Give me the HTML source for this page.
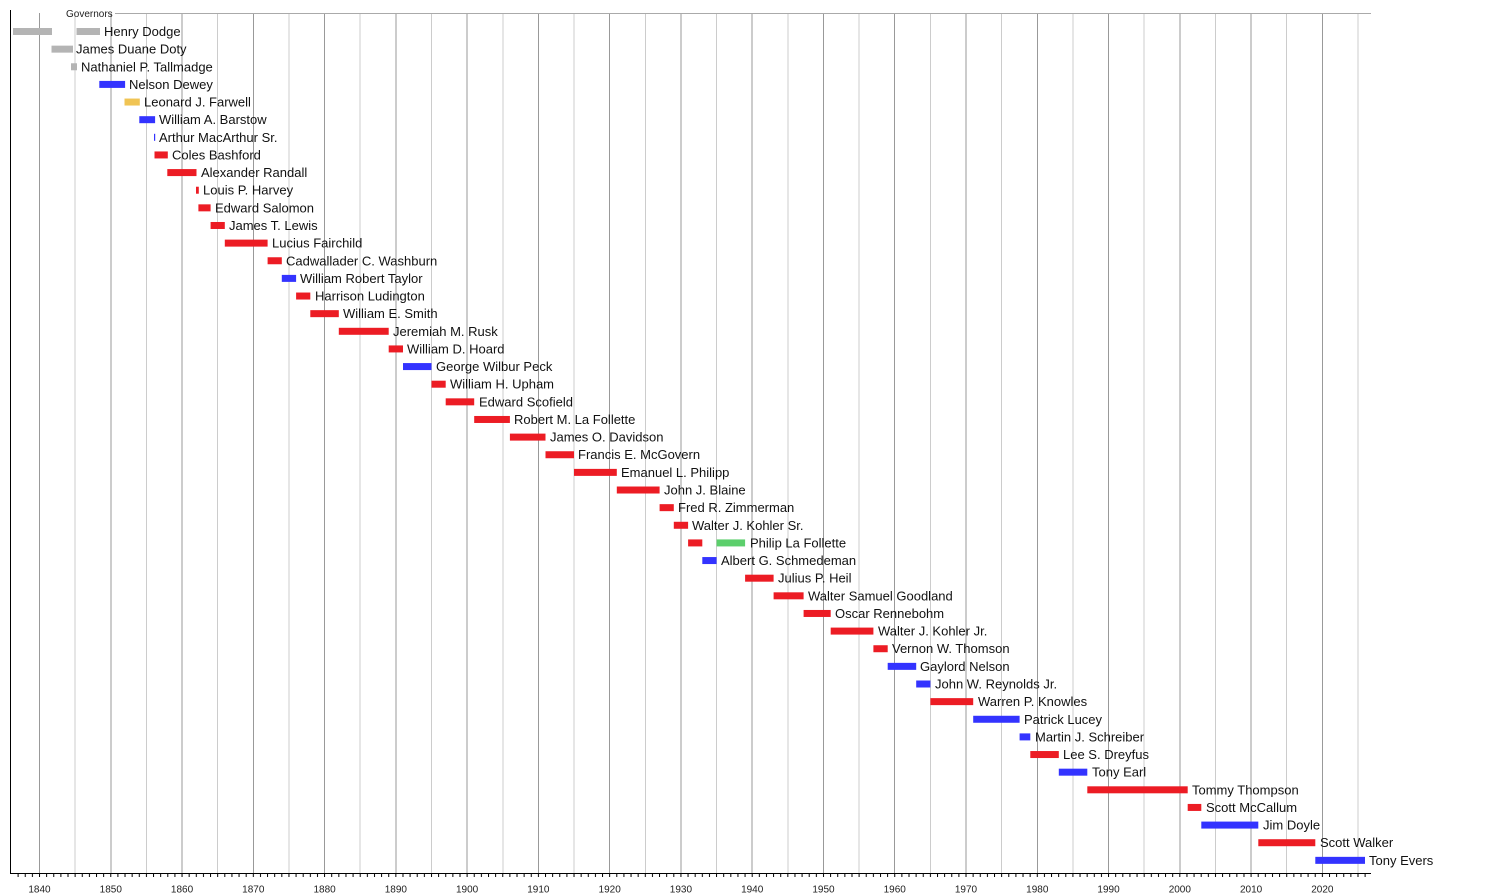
<!DOCTYPE html>
<html>
<head>
<meta charset="utf-8">
<style>
html,body{margin:0;padding:0;background:#fff;}
svg{display:block;}
text{font-family:"Liberation Sans",Arial,sans-serif;}
.l{font-size:13px;fill:#111;}
.t{font-size:10px;fill:#222;text-anchor:middle;}
</style>
</head>
<body>
<svg width="1500" height="894" viewBox="0 0 1500 894" xmlns="http://www.w3.org/2000/svg">
<defs>
<pattern id="tk" x="39" y="873" width="7.127" height="4" patternUnits="userSpaceOnUse">
<rect x="0" y="0" width="1" height="4" fill="#000"/>
</pattern>
</defs>
<!-- half-decade grid -->
<g stroke="#cccccc" stroke-width="1" shape-rendering="crispEdges">
<line x1="75.14" y1="13" x2="75.14" y2="873"/>
<line x1="146.4" y1="13" x2="146.4" y2="873"/>
<line x1="217.68" y1="13" x2="217.68" y2="873"/>
<line x1="288.95" y1="13" x2="288.95" y2="873"/>
<line x1="360.2" y1="13" x2="360.2" y2="873"/>
<line x1="431.5" y1="13" x2="431.5" y2="873"/>
<line x1="502.76" y1="13" x2="502.76" y2="873"/>
<line x1="574.03" y1="13" x2="574.03" y2="873"/>
<line x1="645.3" y1="13" x2="645.3" y2="873"/>
<line x1="716.57" y1="13" x2="716.57" y2="873"/>
<line x1="787.84" y1="13" x2="787.84" y2="873"/>
<line x1="859.1" y1="13" x2="859.1" y2="873"/>
<line x1="930.4" y1="13" x2="930.4" y2="873"/>
<line x1="1001.65" y1="13" x2="1001.65" y2="873"/>
<line x1="1072.9" y1="13" x2="1072.9" y2="873"/>
<line x1="1144.2" y1="13" x2="1144.2" y2="873"/>
<line x1="1215.46" y1="13" x2="1215.46" y2="873"/>
<line x1="1286.73" y1="13" x2="1286.73" y2="873"/>
<line x1="1358" y1="13" x2="1358" y2="873"/>
</g>
<!-- decade grid -->
<g stroke="#999999" stroke-width="1" shape-rendering="crispEdges">
<line x1="39.5" y1="13" x2="39.5" y2="873"/>
<line x1="110.77" y1="13" x2="110.77" y2="873"/>
<line x1="182.04" y1="13" x2="182.04" y2="873"/>
<line x1="253.31" y1="13" x2="253.31" y2="873"/>
<line x1="324.58" y1="13" x2="324.58" y2="873"/>
<line x1="395.85" y1="13" x2="395.85" y2="873"/>
<line x1="467.12" y1="13" x2="467.12" y2="873"/>
<line x1="538.39" y1="13" x2="538.39" y2="873"/>
<line x1="609.66" y1="13" x2="609.66" y2="873"/>
<line x1="680.93" y1="13" x2="680.93" y2="873"/>
<line x1="752.2" y1="13" x2="752.2" y2="873"/>
<line x1="823.47" y1="13" x2="823.47" y2="873"/>
<line x1="894.74" y1="13" x2="894.74" y2="873"/>
<line x1="966.01" y1="13" x2="966.01" y2="873"/>
<line x1="1037.28" y1="13" x2="1037.28" y2="873"/>
<line x1="1108.55" y1="13" x2="1108.55" y2="873"/>
<line x1="1179.82" y1="13" x2="1179.82" y2="873"/>
<line x1="1251.09" y1="13" x2="1251.09" y2="873"/>
<line x1="1322.36" y1="13" x2="1322.36" y2="873"/>
</g>
<!-- top line -->
<line x1="115" y1="13.5" x2="1371" y2="13.5" stroke="#aaaaaa" stroke-width="1" shape-rendering="crispEdges"/>
<text x="66" y="16.8" style="font-size:10px;fill:#222;">Governors</text>
<!-- axes -->
<line x1="10.5" y1="10" x2="10.5" y2="874" stroke="#000" stroke-width="1" shape-rendering="crispEdges"/>
<line x1="10" y1="873.5" x2="1371" y2="873.5" stroke="#000" stroke-width="1" shape-rendering="crispEdges"/>
<rect x="14" y="873" width="1355" height="4" fill="url(#tk)"/>
<!-- tick labels -->
<text class="t" x="39.5" y="892.5">1840</text>
<text class="t" x="110.77" y="892.5">1850</text>
<text class="t" x="182.04" y="892.5">1860</text>
<text class="t" x="253.31" y="892.5">1870</text>
<text class="t" x="324.58" y="892.5">1880</text>
<text class="t" x="395.85" y="892.5">1890</text>
<text class="t" x="467.12" y="892.5">1900</text>
<text class="t" x="538.39" y="892.5">1910</text>
<text class="t" x="609.66" y="892.5">1920</text>
<text class="t" x="680.93" y="892.5">1930</text>
<text class="t" x="752.2" y="892.5">1940</text>
<text class="t" x="823.47" y="892.5">1950</text>
<text class="t" x="894.74" y="892.5">1960</text>
<text class="t" x="966.01" y="892.5">1970</text>
<text class="t" x="1037.28" y="892.5">1980</text>
<text class="t" x="1108.55" y="892.5">1990</text>
<text class="t" x="1179.82" y="892.5">2000</text>
<text class="t" x="1251.09" y="892.5">2010</text>
<text class="t" x="1322.36" y="892.5">2020</text>

<!-- bars -->
<g>
<rect x="13" y="28" width="39" height="7" fill="#b4b4b4"/>
<rect x="76.5" y="28" width="23.5" height="7" fill="#b4b4b4"/>
<text class="l" x="104" y="36">Henry Dodge</text>

<rect x="51.5" y="45.64" width="21.5" height="7" fill="#b4b4b4"/>
<text class="l" x="76" y="53.64">James Duane Doty</text>

<rect x="71" y="63.27" width="6" height="7" fill="#b4b4b4"/>
<text class="l" x="81" y="71.27">Nathaniel P. Tallmadge</text>

<rect x="99.3" y="80.91" width="25.8" height="7" fill="#3333ff"/>
<text class="l" x="129" y="88.91">Nelson Dewey</text>

<rect x="124.5" y="98.54" width="15.3" height="7" fill="#f0c454"/>
<text class="l" x="144" y="106.54">Leonard J. Farwell</text>

<rect x="139.3" y="116.18" width="15.8" height="7" fill="#3333ff"/>
<text class="l" x="159" y="124.18">William A. Barstow</text>

<rect x="154" y="133.81" width="1.2" height="7" fill="#3333ff"/>
<text class="l" x="159" y="141.81">Arthur MacArthur Sr.</text>

<rect x="154.5" y="151.45" width="13.3" height="7" fill="#ec1c24"/>
<text class="l" x="172" y="159.45">Coles Bashford</text>

<rect x="167.3" y="169.08" width="29.2" height="7" fill="#ec1c24"/>
<text class="l" x="201" y="177.08">Alexander Randall</text>

<rect x="196" y="186.72" width="2.8" height="7" fill="#ec1c24"/>
<text class="l" x="203" y="194.72">Louis P. Harvey</text>

<rect x="198.4" y="204.35" width="12.2" height="7" fill="#ec1c24"/>
<text class="l" x="215" y="212.35">Edward Salomon</text>

<rect x="210.6" y="221.99" width="14.2" height="7" fill="#ec1c24"/>
<text class="l" x="229" y="229.99">James T. Lewis</text>

<rect x="224.8" y="239.62" width="42.8" height="7" fill="#ec1c24"/>
<text class="l" x="272" y="247.62">Lucius Fairchild</text>

<rect x="267.6" y="257.26" width="14.2" height="7" fill="#ec1c24"/>
<text class="l" x="286" y="265.26">Cadwallader C. Washburn</text>

<rect x="281.8" y="274.89" width="14.3" height="7" fill="#3333ff"/>
<text class="l" x="300" y="282.89">William Robert Taylor</text>

<rect x="296.1" y="292.53" width="14.2" height="7" fill="#ec1c24"/>
<text class="l" x="315" y="300.53">Harrison Ludington</text>

<rect x="310.3" y="310.16" width="28.5" height="7" fill="#ec1c24"/>
<text class="l" x="343" y="318.16">William E. Smith</text>

<rect x="338.8" y="327.8" width="49.9" height="7" fill="#ec1c24"/>
<text class="l" x="393" y="335.8">Jeremiah M. Rusk</text>

<rect x="388.7" y="345.43" width="14.3" height="7" fill="#ec1c24"/>
<text class="l" x="407" y="353.43">William D. Hoard</text>

<rect x="403" y="363.07" width="28.5" height="7" fill="#3333ff"/>
<text class="l" x="436" y="371.07">George Wilbur Peck</text>

<rect x="431.5" y="380.7" width="14.2" height="7" fill="#ec1c24"/>
<text class="l" x="450" y="388.7">William H. Upham</text>

<rect x="445.7" y="398.34" width="28.5" height="7" fill="#ec1c24"/>
<text class="l" x="479" y="406.34">Edward Scofield</text>

<rect x="474.2" y="415.97" width="35.7" height="7" fill="#ec1c24"/>
<text class="l" x="514" y="423.97">Robert M. La Follette</text>

<rect x="509.9" y="433.61" width="35.6" height="7" fill="#ec1c24"/>
<text class="l" x="550" y="441.61">James O. Davidson</text>

<rect x="545.5" y="451.24" width="28.5" height="7" fill="#ec1c24"/>
<text class="l" x="578" y="459.24">Francis E. McGovern</text>

<rect x="574" y="468.88" width="42.8" height="7" fill="#ec1c24"/>
<text class="l" x="621" y="476.88">Emanuel L. Philipp</text>

<rect x="616.8" y="486.51" width="42.8" height="7" fill="#ec1c24"/>
<text class="l" x="664" y="494.51">John J. Blaine</text>

<rect x="659.6" y="504.15" width="14.2" height="7" fill="#ec1c24"/>
<text class="l" x="678" y="512.15">Fred R. Zimmerman</text>

<rect x="673.8" y="521.78" width="14.3" height="7" fill="#ec1c24"/>
<text class="l" x="692" y="529.78">Walter J. Kohler Sr.</text>

<rect x="688.1" y="539.42" width="14.2" height="7" fill="#ec1c24"/>
<rect x="716.6" y="539.42" width="28.5" height="7" fill="#5ccf6c"/>
<text class="l" x="750" y="547.42">Philip La Follette</text>

<rect x="702.3" y="557.05" width="14.3" height="7" fill="#3333ff"/>
<text class="l" x="721" y="565.05">Albert G. Schmedeman</text>

<rect x="745.1" y="574.69" width="28.5" height="7" fill="#ec1c24"/>
<text class="l" x="778" y="582.69">Julius P. Heil</text>

<rect x="773.6" y="592.32" width="30" height="7" fill="#ec1c24"/>
<text class="l" x="808" y="600.32">Walter Samuel Goodland</text>

<rect x="803.6" y="609.96" width="27.1" height="7" fill="#ec1c24"/>
<text class="l" x="835" y="617.96">Oscar Rennebohm</text>

<rect x="830.7" y="627.59" width="42.7" height="7" fill="#ec1c24"/>
<text class="l" x="878" y="635.59">Walter J. Kohler Jr.</text>

<rect x="873.4" y="645.23" width="14.3" height="7" fill="#ec1c24"/>
<text class="l" x="892" y="653.23">Vernon W. Thomson</text>

<rect x="887.7" y="662.86" width="28.5" height="7" fill="#3333ff"/>
<text class="l" x="920" y="670.86">Gaylord Nelson</text>

<rect x="916.2" y="680.5" width="14.2" height="7" fill="#3333ff"/>
<text class="l" x="935" y="688.5">John W. Reynolds Jr.</text>

<rect x="930.4" y="698.13" width="42.8" height="7" fill="#ec1c24"/>
<text class="l" x="978" y="706.13">Warren P. Knowles</text>

<rect x="973.2" y="715.77" width="46.4" height="7" fill="#3333ff"/>
<text class="l" x="1024" y="723.77">Patrick Lucey</text>

<rect x="1019.6" y="733.4" width="10.7" height="7" fill="#3333ff"/>
<text class="l" x="1035" y="741.4">Martin J. Schreiber</text>

<rect x="1030.3" y="751.04" width="28.5" height="7" fill="#ec1c24"/>
<text class="l" x="1063" y="759.04">Lee S. Dreyfus</text>

<rect x="1058.8" y="768.67" width="28.5" height="7" fill="#3333ff"/>
<text class="l" x="1092" y="776.67">Tony Earl</text>

<rect x="1087.3" y="786.31" width="100.4" height="7" fill="#ec1c24"/>
<text class="l" x="1192" y="794.31">Tommy Thompson</text>

<rect x="1187.7" y="803.94" width="13.6" height="7" fill="#ec1c24"/>
<text class="l" x="1206" y="811.94">Scott McCallum</text>

<rect x="1201.3" y="821.58" width="57" height="7" fill="#3333ff"/>
<text class="l" x="1263" y="829.58">Jim Doyle</text>

<rect x="1258.3" y="839.21" width="57" height="7" fill="#ec1c24"/>
<text class="l" x="1320" y="847.21">Scott Walker</text>

<rect x="1315.3" y="856.85" width="49.7" height="7" fill="#3333ff"/>
<text class="l" x="1369" y="864.85">Tony Evers</text>
</g>
</svg>
</body>
</html>
